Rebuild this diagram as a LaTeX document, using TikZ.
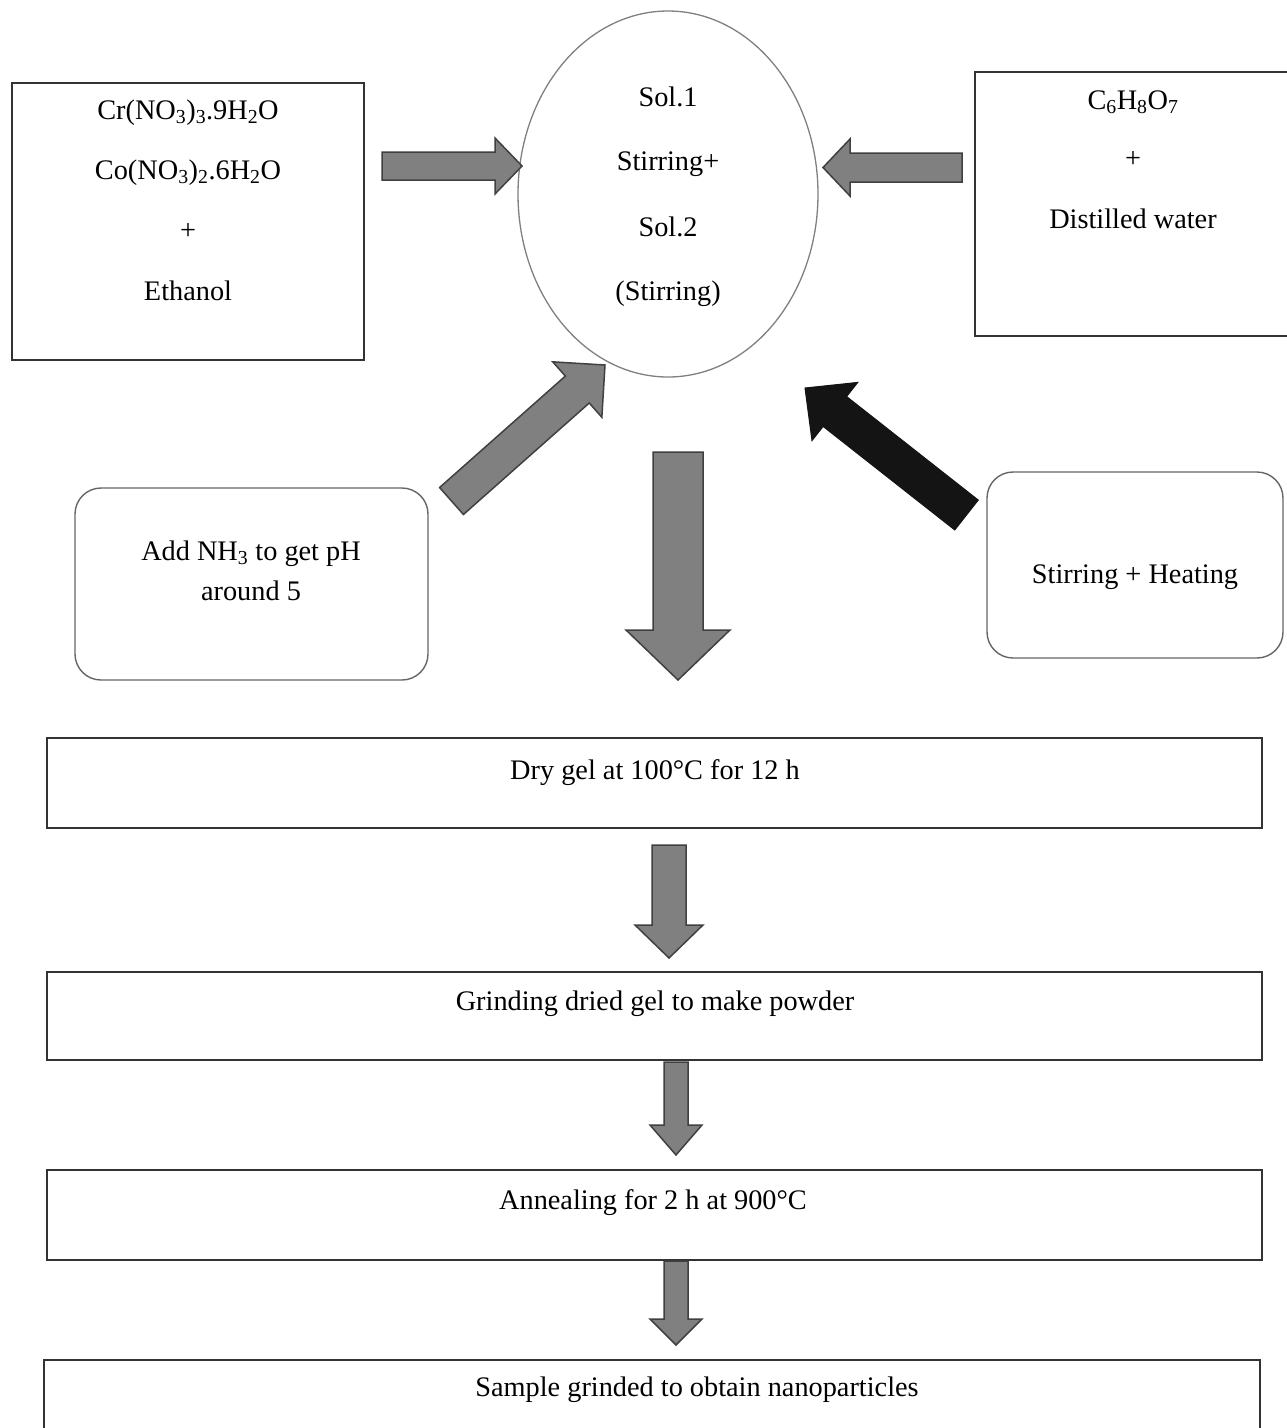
\documentclass[tikz,border=0pt]{standalone}
\usepackage{fontspec}
\setmainfont{Liberation Serif}
\usetikzlibrary{calc,shapes.geometric}
\tikzset{
  boxline/.style={draw=black!80, line width=1.6pt},
  roundline/.style={draw=black!60, line width=1.4pt, rounded corners=26pt},
  ovalline/.style={draw=black!50, line width=1.3pt},
  lbl/.style={anchor=base, inner sep=0pt, font=\fontsize{28.3}{34}\selectfont},
  greyarrow/.style={fill=black!50, draw=black!75, line width=1.5pt, line join=miter},
  blackarrow/.style={fill=black!92, draw=black!92, line width=1pt, line join=miter}
}
% block arrow: #1 style, #2 tail coordinate name, #3 tip coordinate name, #4 half body, #5 half head, #6 head length
\newcommand\blockarrow[6]{%
  \path ($(#3)!#6!(#2)$) coordinate (ba-b);
  \path[#1] ($(#2)!#4!-90:(#3)$) -- ($(ba-b)!#4!-90:(#3)$) -- ($(ba-b)!#5!-90:(#3)$) -- (#3)
     -- ($(ba-b)!#5!90:(#3)$) -- ($(ba-b)!#4!90:(#3)$) -- ($(#2)!#4!90:(#3)$) -- cycle;
}
\newcommand\chs[1]{\textsubscript{#1}}
\begin{document}
\begin{tikzpicture}[x=1pt, y=-1pt]
\useasboundingbox (0,0) rectangle (1287,1428);
\fill[white] (0,0) rectangle (1287,1428);
\begin{scope}
\clip (0,0) rectangle (1287,1428);

% boxes
\node[boxline, minimum width=352pt, minimum height=277pt, inner sep=0pt] (src1) at (188,221.5) {};
\node[boxline, minimum width=320pt, minimum height=264pt, inner sep=0pt] (src2) at (1135,204) {};
\node[ovalline, ellipse, minimum width=300pt, minimum height=366pt, inner sep=0pt] (mix) at (668,194) {};
\node[roundline, minimum width=353pt, minimum height=192pt, inner sep=0pt] (nh3) at (251.5,584) {};
\node[roundline, minimum width=296pt, minimum height=186pt, inner sep=0pt] (heat) at (1135,565) {};
\node[boxline, minimum width=1215pt, minimum height=90pt, inner sep=0pt] (dry) at (654.5,783) {};
\node[boxline, minimum width=1215pt, minimum height=88pt, inner sep=0pt] (grind) at (654.5,1016) {};
\node[boxline, minimum width=1215pt, minimum height=90pt, inner sep=0pt] (anneal) at (654.5,1215) {};
\node[boxline, minimum width=1216pt, minimum height=100pt, inner sep=0pt] (sample) at (652,1410) {};

% texts
\node[lbl] (t1) at (188,119) {Cr(NO\chs{3})\chs{3}.9H\chs{2}O};
\node[lbl] (t2) at (188,179) {Co(NO\chs{3})\chs{2}.6H\chs{2}O};
\node[lbl] (t3) at (188,239) {+};
\node[lbl] (t4) at (188,300) {Ethanol};
\node[lbl] (m1) at (668,106) {Sol.1};
\node[lbl] (m2) at (668,170) {Stirring+};
\node[lbl] (m3) at (668,236) {Sol.2};
\node[lbl] (m4) at (668,300) {(Stirring)};
\node[lbl] (r1) at (1133,109) {C\chs{6}H\chs{8}O\chs{7}};
\node[lbl] (r2) at (1133,167) {+};
\node[lbl] (r3) at (1133,228) {Distilled water};
\node[lbl] (n1) at (251,560) {Add NH\chs{3} to get pH};
\node[lbl] (n2) at (251,600) {around 5};
\node[lbl] (h1) at (1135,583) {Stirring + Heating};
\node[lbl] (d1) at (655,779) {Dry gel at 100°C for 12 h};
\node[lbl] (g1) at (655,1010) {Grinding dried gel to make powder};
\node[lbl] (a1) at (653,1209) {Annealing for 2 h at 900°C};
\node[lbl] (s1) at (697,1396) {Sample grinded to obtain nanoparticles};

% arrow end points
\coordinate (a1t) at (382,166);   \coordinate (a1h) at (522,166);
\coordinate (a2t) at (962,167.5); \coordinate (a2h) at (823,167.5);
\coordinate (a3t) at (451.5,501); \coordinate (a3h) at (605,365);
\coordinate (a4t) at (966.5,515); \coordinate (a4h) at (805,388);
\coordinate (a5t) at (678,452);   \coordinate (a5h) at (678,680);
\coordinate (a6t) at (669,845);   \coordinate (a6h) at (669,958);
\coordinate (a7t) at (676,1062);  \coordinate (a7h) at (676,1155);
\coordinate (a8t) at (676,1261);  \coordinate (a8h) at (676,1345);

\blockarrow{greyarrow}{a1t}{a1h}{14pt}{28pt}{27pt}
\blockarrow{greyarrow}{a2t}{a2h}{14.5pt}{28.5pt}{27pt}
\blockarrow{greyarrow}{a3t}{a3h}{18pt}{37pt}{37pt}
\blockarrow{blackarrow}{a4t}{a4h}{19pt}{37pt}{38pt}
\blockarrow{greyarrow}{a5t}{a5h}{25pt}{52pt}{50pt}
\blockarrow{greyarrow}{a6t}{a6h}{17pt}{34pt}{33pt}
\blockarrow{greyarrow}{a7t}{a7h}{12pt}{26pt}{30pt}
\blockarrow{greyarrow}{a8t}{a8h}{12pt}{26pt}{26pt}
\end{scope}
\end{tikzpicture}
\end{document}
